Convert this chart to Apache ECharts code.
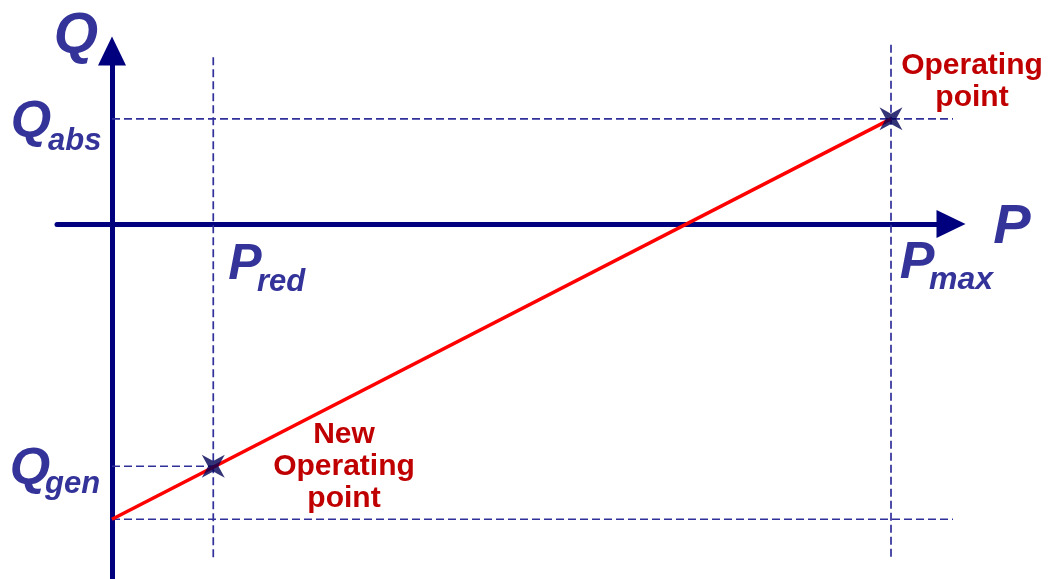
<!DOCTYPE html>
<html lang="en">
<head>
    <meta charset="UTF-8">
    <title>P-Q operating point</title>
    <script src="https://cdn.jsdelivr.net/npm/echarts@6/dist/echarts.min.js"></script>
    <style>
        html, body { margin: 0; padding: 0; background: #fff; }
        #chart { width: 1050px; height: 579px; }
    </style>
</head>
<body>
<div id="chart"></div>
<script>
    // notional values (P in % of Pmax, Q in same units)
    const P_RED = 13;
    const P_MAX = 100;
    const Q_ABS = 13.5;
    const Q_GEN = -31.1;
    const Q_INT = -37.9;

    const opLine = [[0, Q_INT], [P_MAX, Q_ABS]];
    const opPoints = [[P_RED, Q_GEN], [P_MAX, Q_ABS]];
    const guideLines = [
        [[P_RED, 21.4], [P_RED, -43.1]],
        [[P_MAX, 23], [P_MAX, -43.1]],
        [[0, Q_ABS], [108.6, Q_ABS]],
        [[0, Q_GEN], [P_RED, Q_GEN]],
        [[0, Q_INT], [108.6, Q_INT]]
    ];

    // layout: pixels per unit and where the origin sits
    // (axis ends sit at the centre of the triangle heads)
    const k = 7.79, ox = 112, oy = 224;
    const gl = 57, gr = 951, gt = 51, gb = 579;

    const navy = '#00007f';
    const labelBlue = '#333399';
    const darkRed = '#c00000';
    const star = 'path://M-10,-10 L0,-4.5 L10,-10 L4.5,0 L10,10 L0,4.5 L-10,10 L-4.5,0 Z';

    const chart = echarts.init(document.getElementById('chart'));

    function txt(text, x, y, size, color, align) {
        return {
            type: 'text', x: x, y: y, z: 10,
            style: {
                text: text,
                fill: color,
                font: 'italic bold ' + size + 'px "Liberation Sans", Arial, sans-serif',
                align: align || 'center',
                verticalAlign: 'middle'
            }
        };
    }

    function redTxt(text, x, y, size) {
        return {
            type: 'text', x: x, y: y, z: 10,
            style: {
                text: text,
                fill: darkRed,
                font: 'bold ' + size + 'px "Liberation Sans", Arial, sans-serif',
                align: 'center',
                verticalAlign: 'middle',
                lineHeight: 32
            }
        };
    }

    const series = guideLines.map(function (seg) {
        return {
            type: 'line', data: seg, symbol: 'none', clip: false, silent: true,
            lineStyle: { color: '#30309a', width: 1.7, type: [8, 4] }
        };
    });
    series.push({
        type: 'line', data: opLine, symbol: 'none', clip: false, z: 3,
        lineStyle: { color: '#ff0000', width: 3.5 }
    });
    series.push({
        type: 'scatter', data: opPoints, symbol: star, symbolSize: 23, clip: false, z: 4,
        itemStyle: { color: '#000055' }
    });

    const axisLine = {
        onZero: true,
        symbol: ['none', 'triangle'],
        symbolSize: [28, 29],
        lineStyle: { color: navy, width: 5 }
    };

    chart.setOption({
        animation: false,
        grid: { left: gl, right: 1050 - gr, top: gt, bottom: 579 - gb },
        xAxis: {
            type: 'value',
            min: (gl - ox) / k,
            max: (gr - ox) / k,
            splitLine: { show: false },
            axisTick: { show: false },
            axisLabel: { show: false },
            axisLine: axisLine
        },
        yAxis: {
            type: 'value',
            min: (oy - gb) / k,
            max: (oy - gt) / k,
            splitLine: { show: false },
            axisTick: { show: false },
            axisLabel: { show: false },
            axisLine: axisLine
        },
        series: series,
        graphic: [
            txt('Q', 76, 37, 57, labelBlue),
            txt('Q', 31, 123, 52, labelBlue),
            txt('abs', 48, 141, 31, labelBlue, 'left'),
            txt('Q', 30, 470, 52, labelBlue),
            txt('gen', 45, 484, 31, labelBlue, 'left'),
            txt('P', 1012, 228, 56, labelBlue),
            txt('P', 245, 265, 50, labelBlue),
            txt('red', 257, 282, 31, labelBlue, 'left'),
            txt('P', 917, 264, 52, labelBlue),
            txt('max', 929, 280, 32, labelBlue, 'left'),
            redTxt('Operating\npoint', 972, 82, 30),
            redTxt('New\nOperating\npoint', 344, 467, 30)
        ]
    });
</script>
</body>
</html>
